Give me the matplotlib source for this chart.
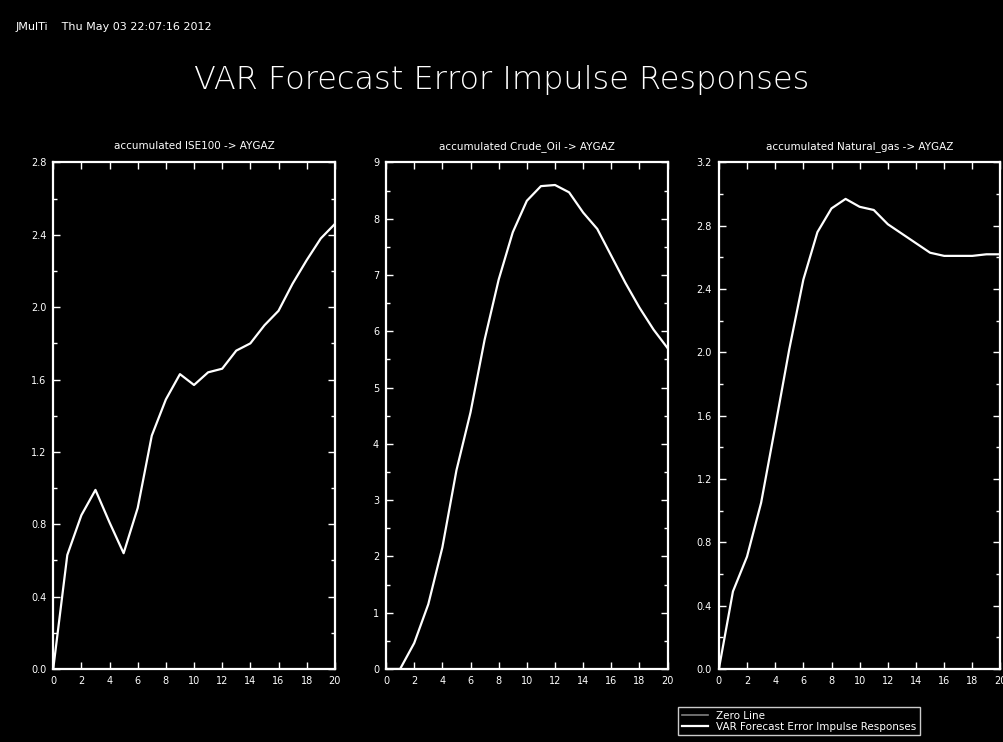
import matplotlib.pyplot as plt
import numpy as np
from matplotlib.ticker import MultipleLocator, FormatStrFormatter

horizon = np.arange(21)

# accumulated responses of AYGAZ
ise100 = [0.0, 0.63, 0.85, 0.99, 0.81, 0.64, 0.89, 1.29, 1.49, 1.63, 1.57,
          1.64, 1.66, 1.76, 1.80, 1.90, 1.98, 2.13, 2.26, 2.38, 2.46]
crude_oil = [0.0, 0.0, 0.46, 1.15, 2.16, 3.53, 4.56, 5.85, 6.92, 7.76, 8.32,
             8.58, 8.60, 8.47, 8.11, 7.82, 7.34, 6.86, 6.42, 6.03, 5.70]
natural_gas = [0.0, 0.49, 0.71, 1.05, 1.53, 2.02, 2.46, 2.76, 2.91, 2.97, 2.92,
               2.90, 2.81, 2.75, 2.69, 2.63, 2.61, 2.61, 2.61, 2.62, 2.62]

titles = ["accumulated ISE100 -> AYGAZ",
          "accumulated Crude_Oil -> AYGAZ",
          "accumulated Natural_gas -> AYGAZ"]
series = [ise100, crude_oil, natural_gas]
ymax = [2.8, 9, 3.2]
ystep = [0.4, 1, 0.4]
yfmt = ["%.1f", "%d", "%.1f"]

fig = plt.figure(figsize=(10.04, 7.42), dpi=100, facecolor="black")
lefts = [0.053, 0.3845, 0.716]

fig.text(0.015, 0.963, "JMulTi    Thu May 03 22:07:16 2012", color="white",
         fontsize=8, va="center")
fig.text(0.5, 0.892, "VAR Forecast Error Impulse Responses", color="white",
         fontsize=23, ha="center", va="center", fontweight="light")

for i in range(3):
    ax = fig.add_axes([lefts[i], 0.0984, 0.2805, 0.6826], facecolor="black")
    ax.plot(horizon, np.zeros(21), color="#808080", lw=1.2, label="Zero Line")
    ax.plot(horizon, series[i], color="white", lw=1.6,
            label="VAR Forecast Error Impulse Responses")
    ax.set_xlim(0, 20)
    ax.set_ylim(0, ymax[i])
    ax.xaxis.set_major_locator(MultipleLocator(2))
    ax.yaxis.set_major_locator(MultipleLocator(ystep[i]))
    ax.yaxis.set_minor_locator(MultipleLocator(ystep[i] / 2))
    ax.yaxis.set_major_formatter(FormatStrFormatter(yfmt[i]))
    ax.tick_params(which="both", direction="in", colors="white", top=True,
                   right=True, labelsize=7, width=1)
    ax.tick_params(which="major", length=5, pad=5)
    ax.tick_params(which="minor", length=3)
    for s in ax.spines.values():
        s.set_color("white")
        s.set_linewidth(1.6)
    ax.set_title(titles[i], color="white", fontsize=7.5, pad=10)
    if i == 2:
        handles, labels = ax.get_legend_handles_labels()

leg = fig.legend(handles, labels, loc="lower left",
                 bbox_to_anchor=(0.670, 0.002), fontsize=7.5, frameon=True,
                 facecolor="black", edgecolor="white", labelcolor="white",
                 handlelength=2.5, borderpad=0.35, labelspacing=0.05,
                 fancybox=False)
leg.get_frame().set_linewidth(1)

fig.savefig("out.png", dpi=100, facecolor="black")
